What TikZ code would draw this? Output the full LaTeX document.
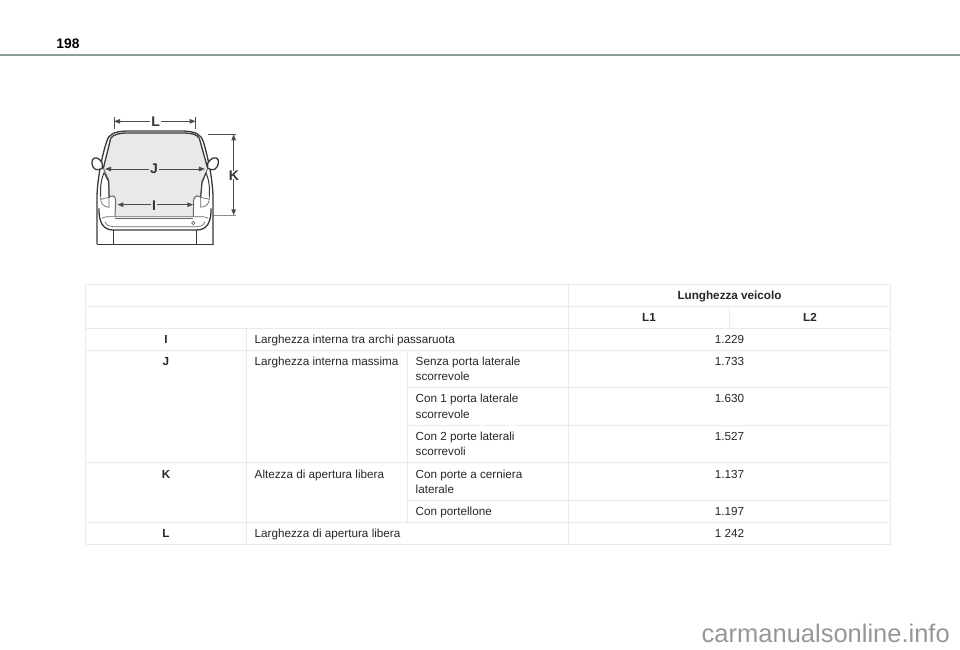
\documentclass[tikz,border=0pt]{standalone}
\usepackage{fontspec}
\setmainfont{Liberation Sans}
\usetikzlibrary{arrows.meta}

\definecolor{gridgray}{RGB}{230,235,235}
\definecolor{rulegray}{RGB}{140,155,155}
\definecolor{glassgray}{RGB}{232,234,232}
\definecolor{vangray}{RGB}{55,57,57}
\definecolor{markgray}{RGB}{150,150,150}

\tikzset{
  grid line/.style={draw=gridgray,line width=1pt},
  cell/.style={font=\fontsize{11.7}{15.6}\selectfont,inner sep=0pt,text=black!85},
  head/.style={cell,font=\fontsize{11.7}{15.6}\selectfont\bfseries},
  left cell/.style={cell,anchor=base west,align=left},
  mid cell/.style={cell,anchor=base},
  mid head/.style={head,anchor=base},
  van/.style={draw=vangray,line width=1.3pt,line join=round},
  thin van/.style={draw=vangray!75,line width=.7pt},
  halfdim/.style={draw=black!70,line width=.9pt,-{Triangle[length=6pt,width=4.5pt]}},
  tick/.style={draw=black!70,line width=.7pt},
  dim label/.style={font=\fontsize{14}{14}\selectfont\bfseries,inner sep=0pt,text=black!80},
}

\begin{document}
\begin{tikzpicture}[x=1pt,y=-1pt]
  \useasboundingbox (0,0) rectangle (960,649);

  % page head
  \node[font=\fontsize{13.8}{14}\selectfont\bfseries,anchor=base,inner sep=0pt] (pagenum) at (68,48) {198};
  \draw[rulegray,line width=1.4pt] (0,55) -- (960,55);

  % van seen from behind, in the units of a 3x crop
  \begin{scope}[shift={(70,100)},scale=1/3]
    \fill[glassgray] (122,115) .. controls (130,102) and (150,100) .. (165,99) -- (345,99)
      .. controls (365,100) and (380,102) .. (388,115) -- (413,205) -- (396,250) -- (392,290)
      -- (372,300) -- (370,350) -- (135,350) -- (135,295) -- (120,288) -- (116,240) -- (100,205) -- cycle;
    % body
    \draw[van] (81,432) -- (81,290) .. controls (82,240) and (95,170) .. (110,125)
      .. controls (117,102) and (130,95) .. (170,93) -- (340,93)
      .. controls (378,95) and (392,102) .. (400,125)
      .. controls (414,170) and (428,240) .. (429,290) -- (429,432);
    \draw[van] (122,115) .. controls (130,102) and (150,100) .. (165,99) -- (345,99)
      .. controls (365,100) and (380,102) .. (388,115) -- (413,205);
    \draw[van] (122,115) -- (100,205);
    % mirrors
    \draw[van,fill=white] (97,190) .. controls (88,172) and (72,168) .. (67,180)
      .. controls (62,195) and (72,212) .. (85,209) -- (97,205) -- cycle;
    \draw[van,fill=white] (413,190) .. controls (422,172) and (440,168) .. (445,180)
      .. controls (448,195) and (438,212) .. (425,209) -- (413,205) -- cycle;
    % door frame and lights
    \draw[thin van,line width=1pt] (100,205) -- (116,240) -- (118,292) .. controls (122,286) and (136,284) .. (137,300) -- (135,350);
    \draw[thin van,line width=1pt] (413,205) -- (396,250) -- (392,292) .. controls (388,286) and (372,284) .. (371,300) -- (370,350);
    \draw[van,line width=1pt] (92,290) .. controls (90,255) and (95,235) .. (102,218) -- (116,245) -- (117,290);
    \draw[van,line width=1pt] (418,290) .. controls (420,255) and (415,235) .. (408,218) -- (396,245) -- (392,290);
    \draw[thin van] (92,290) .. controls (90,310) and (100,320) .. (117,322) -- (117,290);
    \draw[thin van] (418,290) .. controls (420,310) and (410,320) .. (392,322) -- (392,290);
    \draw[thin van] (92,298) -- (117,292);
    \draw[thin van] (418,298) -- (392,292);
    % bumper
    \draw[van] (87,325) .. controls (86,365) and (98,390) .. (130,390) -- (380,390)
      .. controls (412,390) and (424,365) .. (423,325);
    \draw[thin van] (95,355) .. controls (102,350) and (110,350) .. (120,350) -- (390,350)
      .. controls (400,350) and (408,350) .. (415,355);
    \draw[thin van,line width=1.1pt] (135,356) -- (370,356);
    \draw[thin van] (105,365) .. controls (110,378) and (120,380) .. (130,380) -- (380,380)
      .. controls (390,380) and (400,378) .. (405,365);
    \draw[thin van] (370,369) circle (5);
    % wheels and ground
    \draw[van] (130,390) -- (130,432);
    \draw[van] (380,390) -- (380,432);
    \draw[van,line width=1.6pt] (80,433) -- (433,433);
    % measures
    \node[dim label] (labelL) at (257,65) {L};
    \node[dim label] (labelJ) at (252,206) {J};
    \node[dim label] (labelI) at (252,316) {I};
    \node[dim label] (labelK) at (492,226) {K};
    \coordinate (endLa) at (132,64);
    \coordinate (endLb) at (377,64);
    \coordinate (endJa) at (105,207);
    \coordinate (endJb) at (405,207);
    \coordinate (endIa) at (142,314);
    \coordinate (endIb) at (370,314);
    \coordinate (endKa) at (491,103);
    \coordinate (endKb) at (491,346);
    \draw[tick] (132,52) -- (132,88);
    \draw[tick] (377,52) -- (377,88);
    \draw[tick] (414,103) -- (497,103);
    \draw[tick,black!45] (433,346) -- (497,346);
    \draw[halfdim] ([xshift=-3pt]labelL.west |- endLa) -- (endLa);
    \draw[halfdim] ([xshift=3pt]labelL.east |- endLb) -- (endLb);
    \draw[halfdim] ([xshift=-4pt]labelJ.west |- endJa) -- (endJa);
    \draw[halfdim] ([xshift=4pt]labelJ.east |- endJb) -- (endJb);
    \draw[halfdim] ([xshift=-4pt]labelI.west |- endIa) -- (endIa);
    \draw[halfdim] ([xshift=4pt]labelI.east |- endIb) -- (endIb);
    \draw[halfdim] ([yshift=-3pt]endKa |- labelK.north) -- (endKa);
    \draw[halfdim] ([yshift=3pt]endKb |- labelK.south) -- (endKb);
  \end{scope}

  % table grid
  \foreach \yy in {284,306,328,350,462.5,522.5,544}
    \draw[grid line] (85.5,\yy) -- (890.5,\yy);
  \foreach \yy in {387.5,425,500.5}
    \draw[grid line] (407.5,\yy) -- (890.5,\yy);
  \draw[grid line] (85.5,284) -- (85.5,544);
  \draw[grid line] (890.5,284) -- (890.5,544);
  \draw[grid line] (568.5,284) -- (568.5,544);
  \draw[grid line] (729.5,306) -- (729.5,328);
  \draw[grid line] (246.5,328) -- (246.5,544);
  \draw[grid line] (407.5,350) -- (407.5,522.5);

  % table text
  \node[mid head] (lungh) at (729.5,299) {Lunghezza veicolo};
  \node[mid head] (lone) at (649,321) {L1};
  \node[mid head] (ltwo) at (810,321) {L2};

  \node[mid head] (rowI) at (166,343) {I};
  \node[mid head] (rowJ) at (166,365) {J};
  \node[mid head] (rowK) at (166,478) {K};
  \node[mid head] (rowL) at (166,537) {L};

  \node[left cell] (descI) at (254.5,343) {Larghezza interna tra archi passaruota};
  \node[left cell] (descJ) at (254.5,365) {Larghezza interna massima};
  \node[left cell] (descK) at (254.5,478) {Altezza di apertura libera};
  \node[left cell] (descL) at (254.5,537) {Larghezza di apertura libera};

  \node[left cell] (optA) at (415.5,380.6) {Senza porta laterale\\scorrevole};
  \node[left cell] (optB) at (415.5,418.1) {Con 1 porta laterale\\scorrevole};
  \node[left cell] (optC) at (415.5,455.6) {Con 2 porte laterali\\scorrevoli};
  \node[left cell] (optD) at (415.5,493.6) {Con porte a cerniera\\laterale};
  \node[left cell] (optE) at (415.5,515) {Con portellone};

  \node[mid cell] (valI) at (729.5,343) {1.229};
  \node[mid cell] (valA) at (729.5,365) {1.733};
  \node[mid cell] (valB) at (729.5,402.5) {1.630};
  \node[mid cell] (valC) at (729.5,440) {1.527};
  \node[mid cell] (valD) at (729.5,478) {1.137};
  \node[mid cell] (valE) at (729.5,515) {1.197};
  \node[mid cell] (valL) at (729.5,537) {1 242};

  % site mark
  \node[font=\fontsize{25.5}{25.5}\selectfont,text=markgray,anchor=base east,inner sep=0pt] (site) at (950,642) {carmanualsonline.info};
\end{tikzpicture}
\end{document}
